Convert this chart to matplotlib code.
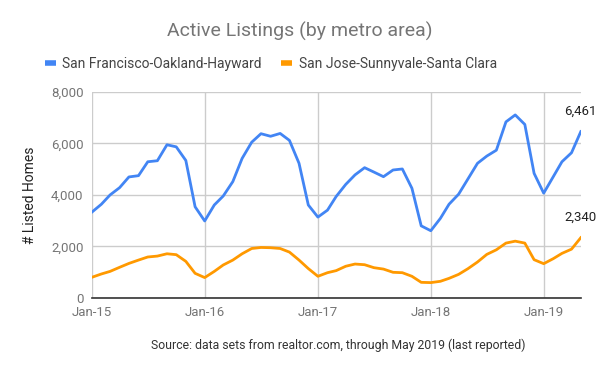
import matplotlib
matplotlib.use("Agg")
import matplotlib.pyplot as plt
import matplotlib.dates as mdates
import pandas as pd

plt.rcParams['font.family'] = ['Roboto', 'DejaVu Sans']

months = pd.date_range('2015-01-01', '2019-05-01', freq='MS')

sf_oakland = [
    3330, 3640, 4000, 4285, 4700, 4750, 5290, 5330, 5950, 5870, 5340, 3540,
    2990, 3610, 3960, 4520, 5420, 6050, 6380, 6280, 6390, 6120, 5230, 3610,
    3140, 3410, 3940, 4410, 4780, 5060, 4890, 4710, 4970, 5010, 4260, 2800,
    2610, 3090, 3640, 4030, 4620, 5230, 5510, 5740, 6840, 7110, 6740, 4840,
    4070, 4710, 5290, 5640, 6461,
]
san_jose = [
    800, 930, 1030, 1190, 1340, 1470, 1590, 1625, 1715, 1680, 1420, 955,
    790, 1030, 1280, 1470, 1715, 1920, 1960, 1950, 1920, 1780, 1470, 1140,
    840, 980, 1060, 1230, 1316, 1290, 1175, 1120, 995, 980, 840, 605,
    595, 645, 760, 915, 1135, 1395, 1690, 1870, 2130, 2205, 2130, 1485,
    1330, 1525, 1730, 1895, 2340,
]
series_names = ['San Francisco-Oakland-Hayward', 'San Jose-Sunnyvale-Santa Clara']
series_colors = ['#4285f4', '#ff9900']
tick_dates = pd.to_datetime(['2015-01-01', '2016-01-01', '2017-01-01', '2018-01-01', '2019-01-01'])
y_ticks = [0, 2000, 4000, 6000, 8000]

fig = plt.figure(figsize=(6, 3.71), dpi=100)
ax = fig.add_axes([0.153, 0.197, 0.815, 0.555])

for vals, name, color in zip([sf_oakland, san_jose], series_names, series_colors):
    ax.plot(months, vals, color=color, linewidth=2, label=name, solid_joinstyle='round')
    # label the last reported value
    ax.annotate(f'{vals[-1]:,}', xy=(months[-1], vals[-1]), xytext=(0, 10),
                textcoords='offset points', ha='center', va='bottom',
                fontsize=9.5, color='#222222')

ax.set_xlim(months[0], months[-1])
ax.set_ylim(0, 8000)
ax.set_yticks(y_ticks)
ax.yaxis.set_major_formatter(matplotlib.ticker.FuncFormatter(lambda v, p: f'{int(v):,}'))
ax.set_xticks(tick_dates)
ax.xaxis.set_major_formatter(mdates.DateFormatter('%b-%y'))

ax.grid(True, color='#cccccc', linewidth=1)
ax.set_axisbelow(True)
for side in ['top', 'right', 'left']:
    ax.spines[side].set_visible(False)
ax.spines['bottom'].set_color('#333333')
ax.spines['bottom'].set_linewidth(1.2)
ax.tick_params(length=0, labelsize=9.5, colors='#757575', pad=6)

ax.set_ylabel('# Listed Homes', fontsize=10, color='#222222', labelpad=10)

fig.text(0.5, 0.915, 'Active Listings (by metro area)', ha='center', va='center',
         fontsize=14, color='#757575')
leg = ax.legend(loc='lower left', bbox_to_anchor=(-0.121, 1.04), ncol=2, frameon=False,
                fontsize=10, handlelength=0.75, columnspacing=1.4,
                handletextpad=0.5, labelcolor='#444444')
for h in leg.get_lines():
    h.set_linewidth(4)
    h.set_solid_capstyle('butt')
fig.text(0.563, 0.07, 'Source: data sets from realtor.com, through May 2019 (last reported)',
         ha='center', va='center', fontsize=8.8, color='#333333')

fig.savefig('out.png', dpi=100)
